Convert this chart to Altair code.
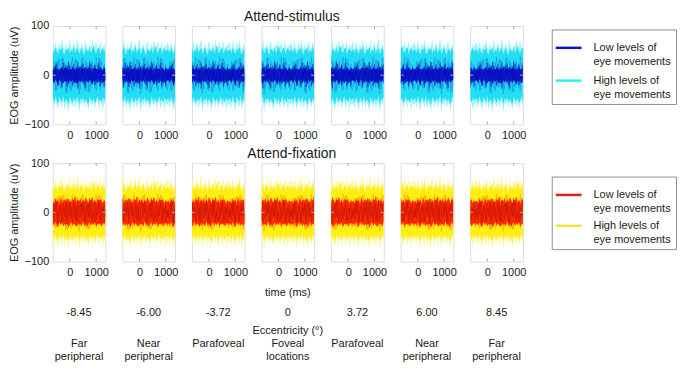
import altair as alt
import pandas as pd

FONT = "Liberation Sans"

# ---------------- data ----------------
ECCENTRICITY = ["-8.45", "-6.00", "-3.72", "0", "3.72", "6.00", "8.45"]
REGIONS = ["Far\nperipheral", "Near\nperipheral", "Parafoveal", "Foveal\nlocations",
           "Parafoveal", "Near\nperipheral", "Far\nperipheral"]
LEGEND_LABELS = ["Low levels of\neye movements", "High levels of\neye movements"]
ROW_TITLES = ["Attend-stimulus", "Attend-fixation"]

TIME = list(range(-650, 1351, 50))          # sample times (ms), 41 samples
PANEL_OFFSET = [0, 6, 12, 18, 24, 30, 36]   # which sample each panel's trace starts at

# sparse outer spikes (uV)
OUTER_UP = [63, 52, 70, 55, 50, 67, 54, 74, 57, 51, 65, 53, 60, 72, 52, 56, 69, 51, 62, 76, 55,
            53, 66, 50, 58, 71, 54, 51, 64, 57, 73, 52, 60, 68, 53, 55, 70, 51, 63, 56, 67]
OUTER_LO = [-55, -68, -51, -60, -73, -53, -57, -66, -50, -71, -54, -61, -75, -52, -58, -65, -51,
            -69, -56, -53, -77, -55, -62, -51, -67, -54, -59, -72, -52, -57, -64, -50, -70, -55,
            -53, -68, -58, -51, -73, -56, -62]
# dense band of high-movement trials
HIGH_UP = [51, 45, 56, 48, 43, 54, 49, 59, 46, 42, 53, 50, 57, 44, 52, 47, 60, 45, 51, 55, 43,
           49, 58, 46, 41, 54, 50, 47, 56, 44, 52, 61, 48, 45, 53, 57, 43, 50, 55, 47, 52]
HIGH_LO = [-47, -55, -43, -51, -58, -45, -49, -54, -42, -57, -48, -52, -60, -44, -50, -56, -46,
           -53, -49, -43, -59, -47, -51, -45, -55, -48, -52, -61, -44, -49, -54, -46, -57, -50,
           -43, -53, -48, -56, -45, -51, -49]
# single high-movement traces
TRACE1 = [12, -18, 25, -8, 30, -22, 5, 34, -15, 20, -30, 8, 27, -12, -33, 15, 3, -25, 31, -6, 18,
          -28, 10, 36, -20, 2, 24, -35, 14, -9, 29, -17, 6, -31, 22, -4, 33, -19, 11, -26, 7]
TRACE2 = [-20, 15, -32, 28, -5, 10, -27, 18, 35, -12, 4, -36, 21, -3, 26, -24, 13, 32, -16, 9,
          -38, 17, -7, 23, -29, 30, -11, 6, -33, 25, -2, 19, -26, 37, -14, 8, -21, 27, -10, 16, -30]
TRACE3 = [5, 28, -14, -30, 18, 33, -8, -22, 12, 26, -35, 3, 16, -27, 9, 37, -19, 4, -11, 29, -23,
          7, 34, -16, 13, -32, 20, 1, 31, -25, 11, -6, 24, -18, 2, 35, -28, 15, -3, 22, -12]
# low-movement core, attend-stimulus
STIM_LOW_UP = [14, 9, 17, 11, 15, 8, 13, 18, 10, 16, 12, 19, 9, 14, 11, 17, 13, 10, 16, 12, 18,
               9, 15, 11, 14, 17, 10, 13, 16, 8, 15, 12, 18, 11, 14, 9, 17, 13, 10, 15, 12]
STIM_LOW_LO = [-11, -16, -9, -14, -18, -10, -13, -8, -17, -12, -15, -10, -19, -11, -14, -9, -16,
               -13, -12, -18, -10, -15, -11, -17, -9, -14, -12, -16, -10, -13, -18, -11, -15, -9,
               -17, -12, -14, -10, -16, -13, -11]
# low-movement core, attend-fixation
FIX_LOW_UP = [24, 18, 29, 21, 26, 17, 31, 22, 19, 27, 23, 30, 18, 25, 20, 28, 24, 33, 19, 26, 22,
              29, 17, 27, 21, 30, 25, 19, 28, 23, 32, 20, 26, 18, 29, 22, 27, 24, 19, 25, 21]
FIX_LOW_LO = [-22, -28, -19, -26, -31, -20, -25, -18, -29, -23, -27, -21, -32, -24, -19, -28, -22,
              -26, -30, -20, -25, -23, -29, -18, -27, -21, -31, -24, -20, -28, -22, -26, -19, -30,
              -23, -25, -21, -29, -24, -20, -26]
# single low-movement traces
DARK1 = [8, -14, 20, -5, -22, 12, 3, -18, 25, -9, 15, -24, 6, 19, -12, -3, 22, -16, 10, -27, 4,
         17, -8, 23, -20, 1, 14, -11, 26, -6, -19, 9, 21, -15, 2, 18, -23, 11, -4, 16, -10]
DARK2 = [-10, 17, -4, 23, -19, 6, 14, -25, 9, -2, 21, -13, 27, -8, 11, -21, 3, 15, -17, 24, -6,
         -12, 20, -1, 13, -26, 7, 18, -9, 22, -14, 4, -20, 12, -7, 25, -3, -16, 8, -22, 5]

X_TICKS = [0, 1000]
Y_TICKS = [-100, 0, 100]

# ---------------- style ----------------
W, H, GAP = 53, 99, 17
FRAME = "#a9a9a9"
TEXT = "#1a1a1a"
STYLE = {
    "stim": dict(outer="#a4f2f9", high="#22def4", mid="#1f8de8", low="#0c1ee8", dark="#0a0a90",
                 legend=["#1212d0", "#2ff0f0"]),
    "fix": dict(outer="#fcf7a0", high="#ffee12", mid="#ff9c00", low="#ff2a00", dark="#b3140e",
                legend=["#d82222", "#f2e23c"]),
}
MIDDLE_PANEL = 3


def build_df(low_up, low_lo, title):
    n = len(TIME)
    recs = []
    for p in range(len(ECCENTRICITY)):
        for i, t in enumerate(TIME):
            j = (i + PANEL_OFFSET[p]) % n
            recs.append(dict(panel=p, i=i, time=t, title=title,
                             outer_up=OUTER_UP[j], outer_lo=OUTER_LO[j],
                             high_up=HIGH_UP[j], high_lo=HIGH_LO[j],
                             t1=TRACE1[j], t2=TRACE2[j], t3=TRACE3[j],
                             low_up=low_up[j], low_lo=low_lo[j],
                             d1=DARK1[j], d2=DARK2[j]))
    return pd.DataFrame(recs)


def row_chart(df, st):
    xs = alt.Scale(domain=[-650, 1350], nice=False, zero=False)
    ys = alt.Scale(domain=[-100, 100], nice=False, zero=False)
    X = alt.X("time:Q", scale=xs,
              axis=alt.Axis(values=X_TICKS, title=None, ticks=False, domain=False, grid=False,
                            labelFontSize=11, labelFont=FONT, labelPadding=5, format="d",
                            labelColor=TEXT, labelFlush=False))
    Yax = alt.Axis(values=Y_TICKS, title="EOG amplitude (uV)", ticks=False, domain=False,
                   grid=False, labelFontSize=11, labelFont=FONT, labelPadding=4,
                   titleFontSize=11, titleFont=FONT, titleFontWeight="normal",
                   titlePadding=5, labelColor=TEXT, titleColor=TEXT)

    def Y(field):
        return alt.Y(field, scale=ys, axis=Yax, title="EOG amplitude (uV)")

    base = alt.Chart().encode(x=X)
    outer = base.mark_area(color=st["outer"], clip=True).encode(
        y=Y("outer_up:Q"), y2="outer_lo:Q")
    high = base.mark_area(color=st["high"], clip=True).encode(
        y=Y("high_up:Q"), y2="high_lo:Q")
    mid = base.transform_fold(["t1", "t2", "t3"], as_=["k", "v"]).mark_line(
        color=st["mid"], strokeWidth=0.7, opacity=0.75, clip=True).encode(
        y=Y("v:Q"), detail="k:N")
    low = base.mark_area(color=st["low"], clip=True).encode(
        y=Y("low_up:Q"), y2="low_lo:Q")
    dark = base.transform_fold(["d1", "d2"], as_=["k", "v"]).mark_line(
        color=st["dark"], strokeWidth=0.7, opacity=0.6, clip=True).encode(
        y=Y("v:Q"), detail="k:N")
    ticks = []
    one = alt.Chart().transform_filter("datum.i == 0")
    for tv in X_TICKS:
        ticks.append(one.mark_rule(color=FRAME).encode(
            x=alt.X(datum=tv, scale=xs), y=alt.value(0), y2=alt.value(3)))
        ticks.append(one.mark_rule(color=FRAME).encode(
            x=alt.X(datum=tv, scale=xs), y=alt.value(H - 3), y2=alt.value(H)))
    ticks.append(one.mark_rule(color=FRAME).encode(
        y=alt.Y(datum=0, scale=ys), x=alt.value(0), x2=alt.value(3)))
    ticks.append(one.mark_rule(color=FRAME).encode(
        y=alt.Y(datum=0, scale=ys), x=alt.value(W - 3), x2=alt.value(W)))
    # row title, drawn above the middle panel
    title = alt.Chart().transform_filter(
        f"datum.i == 0 && datum.panel == {MIDDLE_PANEL}").mark_text(
        fontSize=14, font=FONT, color=TEXT, baseline="middle", dx=4).encode(
        x=alt.value(W / 2), y=alt.value(-9), text="title:N")
    layered = alt.layer(outer, high, mid, low, dark, *ticks, title, data=df).properties(
        width=W, height=H)
    return layered.facet(
        column=alt.Column("panel:O", title=None, header=alt.Header(labels=False, labelPadding=0)),
        spacing=GAP,
        bounds="flush",
    )


LEG_W = 126


def legend_chart(colors, box_top, box_h):
    ldf = pd.DataFrame({"item": [0, 1], "label": LEGEND_LABELS, "color": colors})
    ypos = alt.Scale(type="point", range=[box_top + 18, box_top + box_h - 24], padding=0)
    box = alt.Chart(ldf).transform_filter("datum.item == 0").mark_rect(
        fill="white", stroke="#8f8f8f", strokeWidth=1).encode(
        x=alt.value(0.5), x2=alt.value(LEG_W - 0.5), y=alt.value(box_top),
        y2=alt.value(box_top + box_h))
    lines = alt.Chart(ldf).mark_rule(strokeWidth=2.5).encode(
        x=alt.value(4), x2=alt.value(30),
        y=alt.Y("item:O", scale=ypos, axis=None),
        color=alt.Color("color:N", scale=None))
    texts = alt.Chart(ldf).mark_text(align="left", baseline="middle", fontSize=11, font=FONT,
                                     lineHeight=14, lineBreak="\n", color=TEXT).encode(
        x=alt.value(42), y=alt.Y("item:O", scale=ypos, axis=None), text="label:N")
    return alt.layer(box, lines, texts).properties(
        width=LEG_W, height=H, view=alt.ViewBackground(stroke=None))


stim_df = build_df(STIM_LOW_UP, STIM_LOW_LO, ROW_TITLES[0])
fix_df = build_df(FIX_LOW_UP, FIX_LOW_LO, ROW_TITLES[1])

row1 = alt.hconcat(row_chart(stim_df, STYLE["stim"]),
                   legend_chart(STYLE["stim"]["legend"], 4, 75), spacing=26)
row2 = alt.hconcat(row_chart(fix_df, STYLE["fix"]),
                   legend_chart(STYLE["fix"]["legend"], 14, 73), spacing=26)

# bottom labels
TOTAL = 7 * W + 6 * GAP
lab_df = pd.DataFrame({"panel": list(range(7)), "ecc": ECCENTRICITY, "region": REGIONS})
bx = alt.X("panel:O", axis=None, bandPosition=0.5,
           scale=alt.Scale(type="band", range=[0, TOTAL],
                           paddingInner=GAP / (W + GAP), paddingOuter=0))
lab_base = alt.Chart(lab_df)
ecc_t = lab_base.mark_text(fontSize=11, font=FONT, baseline="middle", color=TEXT).encode(
    x=bx, y=alt.value(36), text="ecc:N")
reg_t = lab_base.mark_text(fontSize=11, font=FONT, baseline="top", lineBreak="\n",
                           lineHeight=13, color=TEXT).encode(
    x=bx, y=alt.value(61), text="region:N")
one_lab = lab_base.transform_filter("datum.panel == 0")
time_t = one_lab.mark_text(fontSize=11, font=FONT, baseline="middle", color=TEXT,
                           text="time (ms)").encode(x=alt.value(TOTAL / 2), y=alt.value(16))
ecc_title = one_lab.mark_text(fontSize=11, font=FONT, baseline="middle", color=TEXT,
                              text="Eccentricity (°)").encode(x=alt.value(TOTAL / 2),
                                                              y=alt.value(54))
labels = alt.layer(ecc_t, reg_t, time_t, ecc_title).properties(
    width=TOTAL, height=86, view=alt.ViewBackground(stroke=None))

rows = alt.vconcat(row1, row2, spacing=6)
chart = alt.vconcat(rows, labels, spacing=0).properties(
    padding={"left": 0, "top": 0, "right": 0, "bottom": 0}
).configure_view(stroke=FRAME, strokeWidth=1).configure(font=FONT)
chart.save("out.html", embed_options={"renderer": "svg", "actions": False})
